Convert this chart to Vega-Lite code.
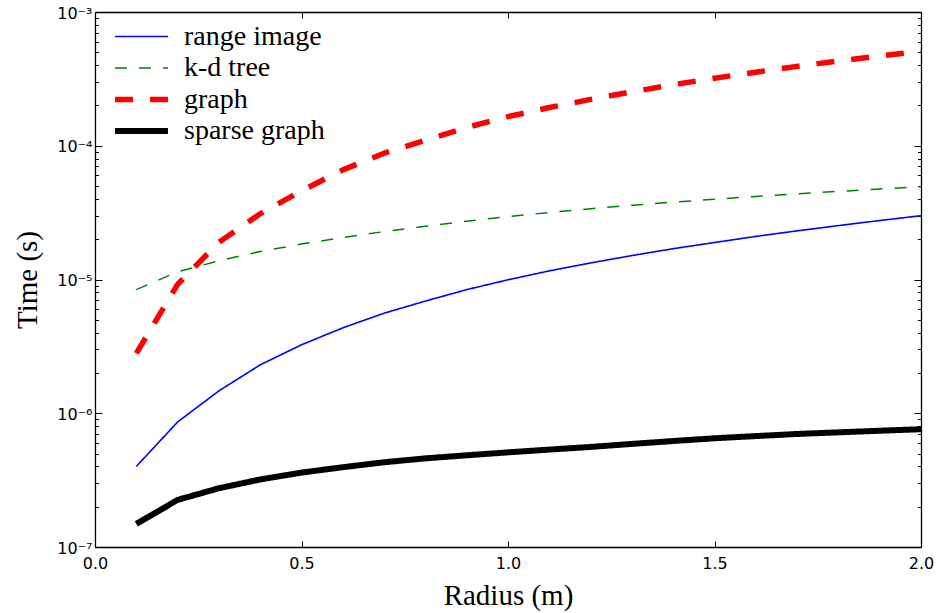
{
  "$schema": "https://vega.github.io/schema/vega-lite/v6.json",
  "width": 826,
  "height": 535,
  "autosize": "none",
  "padding": {"left": 95, "top": 12, "right": 19, "bottom": 66},
  "background": "white",
  "config": {
    "view": {"stroke": null},
    "axis": {
      "domainColor": "black", "domainWidth": 1.3, "tickColor": "black", "tickWidth": 1,
      "grid": false, "labelFont": "DejaVu Sans", "labelFontSize": 16, "labelColor": "black",
      "titleFont": "Liberation Serif", "titleFontSize": 29, "titleFontWeight": "normal", "titleColor": "black"
    },
    "legend": {
      "orient": "none", "legendX": 17, "legendY": 11, "padding": 0, "title": null,
      "symbolType": "stroke", "symbolSize": 2800, "labelFont": "Liberation Serif", "labelFontSize": 28,
      "labelColor": "black", "labelOffset": 13, "rowPadding": 2.5, "clipHeight": 27, "labelLimit": 400
    }
  },
  "data": {"values": [
    {"r":0.1,"t":4.0e-7,"series":"range image"},{"r":0.2,"t":8.6e-7,"series":"range image"},{"r":0.3,"t":1.47e-6,"series":"range image"},{"r":0.4,"t":2.3e-6,"series":"range image"},{"r":0.5,"t":3.25e-6,"series":"range image"},{"r":0.6,"t":4.35e-6,"series":"range image"},{"r":0.7,"t":5.6e-6,"series":"range image"},{"r":0.8,"t":6.9e-6,"series":"range image"},{"r":0.9,"t":8.4e-6,"series":"range image"},{"r":1.0,"t":9.95e-6,"series":"range image"},{"r":1.1,"t":1.16e-5,"series":"range image"},{"r":1.2,"t":1.33e-5,"series":"range image"},{"r":1.3,"t":1.51e-5,"series":"range image"},{"r":1.4,"t":1.70e-5,"series":"range image"},{"r":1.5,"t":1.89e-5,"series":"range image"},{"r":1.6,"t":2.1e-5,"series":"range image"},{"r":1.7,"t":2.31e-5,"series":"range image"},{"r":1.8,"t":2.53e-5,"series":"range image"},{"r":1.9,"t":2.76e-5,"series":"range image"},{"r":2.0,"t":3.0e-5,"series":"range image"},
    {"r":0.1,"t":8.4e-6,"series":"k-d tree"},{"r":0.2,"t":1.14e-5,"series":"k-d tree"},{"r":0.3,"t":1.38e-5,"series":"k-d tree"},{"r":0.4,"t":1.62e-5,"series":"k-d tree"},{"r":0.5,"t":1.84e-5,"series":"k-d tree"},{"r":0.6,"t":2.06e-5,"series":"k-d tree"},{"r":0.7,"t":2.28e-5,"series":"k-d tree"},{"r":0.8,"t":2.5e-5,"series":"k-d tree"},{"r":0.9,"t":2.73e-5,"series":"k-d tree"},{"r":1.0,"t":2.95e-5,"series":"k-d tree"},{"r":1.1,"t":3.17e-5,"series":"k-d tree"},{"r":1.2,"t":3.38e-5,"series":"k-d tree"},{"r":1.3,"t":3.59e-5,"series":"k-d tree"},{"r":1.4,"t":3.79e-5,"series":"k-d tree"},{"r":1.5,"t":3.98e-5,"series":"k-d tree"},{"r":1.6,"t":4.18e-5,"series":"k-d tree"},{"r":1.7,"t":4.37e-5,"series":"k-d tree"},{"r":1.8,"t":4.56e-5,"series":"k-d tree"},{"r":1.9,"t":4.75e-5,"series":"k-d tree"},{"r":2.0,"t":4.94e-5,"series":"k-d tree"},
    {"r":0.1,"t":2.8e-6,"series":"graph"},{"r":0.2,"t":9.2e-6,"series":"graph"},{"r":0.3,"t":1.9e-5,"series":"graph"},{"r":0.4,"t":3.1e-5,"series":"graph"},{"r":0.5,"t":4.6e-5,"series":"graph"},{"r":0.6,"t":6.6e-5,"series":"graph"},{"r":0.7,"t":8.8e-5,"series":"graph"},{"r":0.8,"t":1.1e-4,"series":"graph"},{"r":0.9,"t":1.37e-4,"series":"graph"},{"r":1.0,"t":1.65e-4,"series":"graph"},{"r":1.1,"t":1.93e-4,"series":"graph"},{"r":1.2,"t":2.22e-4,"series":"graph"},{"r":1.3,"t":2.53e-4,"series":"graph"},{"r":1.4,"t":2.86e-4,"series":"graph"},{"r":1.5,"t":3.2e-4,"series":"graph"},{"r":1.6,"t":3.55e-4,"series":"graph"},{"r":1.7,"t":3.92e-4,"series":"graph"},{"r":1.8,"t":4.3e-4,"series":"graph"},{"r":1.9,"t":4.7e-4,"series":"graph"},{"r":2.0,"t":5.07e-4,"series":"graph"},
    {"r":0.1,"t":1.49e-7,"series":"sparse graph"},{"r":0.2,"t":2.25e-7,"series":"sparse graph"},{"r":0.3,"t":2.75e-7,"series":"sparse graph"},{"r":0.4,"t":3.2e-7,"series":"sparse graph"},{"r":0.5,"t":3.6e-7,"series":"sparse graph"},{"r":0.6,"t":3.95e-7,"series":"sparse graph"},{"r":0.7,"t":4.3e-7,"series":"sparse graph"},{"r":0.8,"t":4.6e-7,"series":"sparse graph"},{"r":0.9,"t":4.85e-7,"series":"sparse graph"},{"r":1.0,"t":5.1e-7,"series":"sparse graph"},{"r":1.1,"t":5.35e-7,"series":"sparse graph"},{"r":1.2,"t":5.6e-7,"series":"sparse graph"},{"r":1.3,"t":5.9e-7,"series":"sparse graph"},{"r":1.4,"t":6.2e-7,"series":"sparse graph"},{"r":1.5,"t":6.5e-7,"series":"sparse graph"},{"r":1.6,"t":6.75e-7,"series":"sparse graph"},{"r":1.7,"t":7.0e-7,"series":"sparse graph"},{"r":1.8,"t":7.2e-7,"series":"sparse graph"},{"r":1.9,"t":7.4e-7,"series":"sparse graph"},{"r":2.0,"t":7.6e-7,"series":"sparse graph"}
  ]},
  "resolve": {"axis": {"x": "independent", "y": "independent"}},
  "layer": [
    {
      "mark": {"type": "line", "clip": true, "strokeCap": "butt", "strokeJoin": "round"},
      "encoding": {
        "x": {"field": "r", "type": "quantitative",
          "scale": {"domain": [0, 2], "nice": false, "zero": false},
          "axis": {"orient": "bottom", "title": "Radius (m)", "values": [0, 0.5, 1, 1.5, 2], "format": ".1f",
            "tickSize": -6, "labelPadding": 14, "titlePadding": 10, "labelFlush": false}},
        "y": {"field": "t", "type": "quantitative",
          "scale": {"type": "log", "domain": [1e-7, 1e-3], "nice": false},
          "axis": {"orient": "left", "title": "Time (s)",
            "values": [1e-7,2e-7,3e-7,4e-7,5e-7,6e-7,7e-7,8e-7,9e-7,1e-6,2e-6,3e-6,4e-6,5e-6,6e-6,7e-6,8e-6,9e-6,1e-5,2e-5,3e-5,4e-5,5e-5,6e-5,7e-5,8e-5,9e-5,1e-4,2e-4,3e-4,4e-4,5e-4,6e-4,7e-4,8e-4,9e-4,1e-3],
            "labelExpr": "abs(log(datum.value)/LN10 - round(log(datum.value)/LN10)) < 0.001 ? '10⁻' + ['','¹','²','³','⁴','⁵','⁶','⁷'][-round(log(datum.value)/LN10)] : ''",
            "tickSize": {"condition": {"test": "abs(log(datum.value)/LN10 - round(log(datum.value)/LN10)) < 0.001", "value": -7}, "value": -3.5},
            "labelPadding": 10, "labelOffset": 1, "titlePadding": 14, "labelFlush": false}},
        "color": {"field": "series", "type": "nominal",
          "scale": {"domain": ["range image", "k-d tree", "graph", "sparse graph"], "range": ["#0000ff", "#008000", "#ff0000", "#000000"]}},
        "strokeDash": {"field": "series", "type": "nominal",
          "scale": {"domain": ["range image", "k-d tree", "graph", "sparse graph"], "range": [[1, 0], [12, 12], [18, 17], [1, 0]]}},
        "strokeWidth": {"field": "series", "type": "ordinal",
          "scale": {"type": "ordinal", "domain": ["range image", "k-d tree", "graph", "sparse graph"], "range": [1.6, 1.5, 5.5, 6]}}
      }
    },
    {
      "mark": {"type": "line", "opacity": 0},
      "encoding": {
        "x": {"field": "r", "type": "quantitative",
          "axis": {"orient": "top", "title": null, "labels": false, "values": [0, 0.5, 1, 1.5, 2], "tickSize": -6}},
        "y": {"field": "t", "type": "quantitative",
          "axis": {"orient": "right", "title": null, "labels": false,
            "values": [1e-7,2e-7,3e-7,4e-7,5e-7,6e-7,7e-7,8e-7,9e-7,1e-6,2e-6,3e-6,4e-6,5e-6,6e-6,7e-6,8e-6,9e-6,1e-5,2e-5,3e-5,4e-5,5e-5,6e-5,7e-5,8e-5,9e-5,1e-4,2e-4,3e-4,4e-4,5e-4,6e-4,7e-4,8e-4,9e-4,1e-3],
            "tickSize": {"condition": {"test": "abs(log(datum.value)/LN10 - round(log(datum.value)/LN10)) < 0.001", "value": -7}, "value": -3.5}}},
        "detail": {"field": "series", "type": "nominal"}
      }
    }
  ]
}
